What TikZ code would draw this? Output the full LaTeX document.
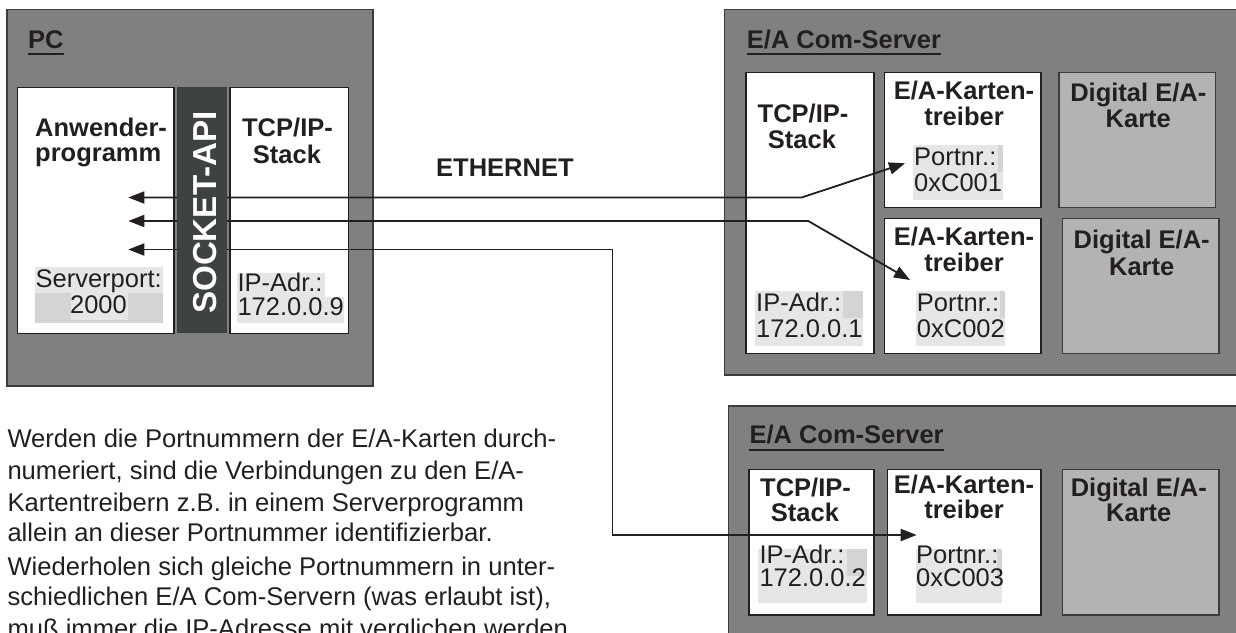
\documentclass[tikz,border=0pt]{standalone}
\usepackage{fontspec}
\setmainfont{Liberation Sans}
\usetikzlibrary{arrows.meta}

\definecolor{ink}{RGB}{35,31,32}
\definecolor{frame}{RGB}{128,128,128}
\definecolor{frameedge}{RGB}{60,60,60}
\definecolor{card}{RGB}{179,179,179}
\definecolor{apibar}{RGB}{63,66,66}
\definecolor{hl}{RGB}{230,230,230}
\definecolor{hldark}{RGB}{212,212,212}

% rectangle node from its corner coordinates: name, style, x1, y1, x2, y2
\newcommand\mkbox[6]{\node[#2, minimum width={#5pt-#3pt}, minimum height={#6pt-#4pt}] (#1) at ({(#3+#5)/2},{(#4+#6)/2}) {};}

\tikzset{
  host/.style={draw=frameedge, fill=frame, line width=1.2pt, inner sep=0pt, outer sep=0pt},
  unit/.style={draw=ink, fill=white, line width=1.1pt, inner sep=0pt},
  hwcard/.style={draw=frameedge, fill=card, line width=1.1pt, inner sep=0pt},
  api/.style={fill=apibar, inner sep=0pt},
  heading/.style={font=\fontsize{25.5pt}{26pt}\selectfont\bfseries, text=ink, inner sep=0pt, anchor=base},
  hosttitle/.style={heading, anchor=base west},
  txt/.style={font=\fontsize{25.5pt}{26pt}\selectfont, text=ink, inner sep=0pt, anchor=base west},
  bodytext/.style={font=\fontsize{25.6pt}{31pt}\selectfont, text=ink, inner sep=0pt, anchor=base west},
  uline/.style={draw=ink, line width=2.2pt},
  link/.style={draw=ink, line width=1.8pt,
    {Triangle[length=16pt,width=12pt]}-{Triangle[length=16pt,width=12pt]}},
}

\begin{document}
\begin{tikzpicture}[x=1pt, y=-1pt]
\useasboundingbox (0,0) rectangle (1236,632);

% ---------------- PC ----------------
\mkbox{pc}{host}{7}{9.3}{373}{386}
\mkbox{app}{unit}{17.3}{87.3}{174}{333.3}
\mkbox{pcstack}{unit}{230}{87.3}{348.3}{333.3}

% ---------------- E/A Com-Server 1 ----------------
\mkbox{srvA}{host}{724.7}{9.3}{1246}{375}
\mkbox{stackA}{unit}{746}{72.3}{874}{353.3}
\mkbox{drvA1}{unit}{884.7}{72.3}{1041}{207.3}
\mkbox{drvA2}{unit}{884.7}{218.7}{1041}{353.3}
\mkbox{cardA1}{hwcard}{1059}{72.3}{1215.7}{207.3}
\mkbox{cardA2}{hwcard}{1062.3}{218.7}{1219}{353.3}

% ---------------- E/A Com-Server 2 ----------------
\mkbox{srvB}{host}{728.3}{406}{1246}{645}
\mkbox{stackB}{unit}{749}{469.3}{874}{615}
\mkbox{drvB}{unit}{887.3}{469.3}{1041}{615}
\mkbox{cardB}{hwcard}{1062.3}{469.3}{1219}{615}

% text run backgrounds
\fill[hl] (35,266.7) rectangle (162.7,293);
\fill[hldark] (35,293) rectangle (162.7,322.7);
\fill[hl] (70.7,293) rectangle (127.7,320);
\fill[hl] (237,273) rectangle (325,297);
\fill[hl] (237,297) rectangle (344,323);

\fill[hl] (755,290.7) rectangle (862.7,346);
\fill[hldark] (842.7,290.7) rectangle (862.7,318);
\fill[hl] (912.7,145) rectangle (1002.7,200);
\fill[hldark] (998,145) rectangle (1002.7,172);
\fill[hl] (916,290.7) rectangle (1005,346);
\fill[hldark] (1000,290.7) rectangle (1005,318);

\fill[hl] (758,549.3) rectangle (866.7,602.7);
\fill[hldark] (847,549.3) rectangle (866.7,576);
\fill[hl] (916,549.3) rectangle (1001.7,602.7);
\fill[hldark] (997,549.3) rectangle (1001.7,576);

% ---------------- PC texts ----------------
\node[hosttitle] (pctitle) at (28,48.3) {PC};
\draw[uline] ([yshift=-6pt]pctitle.base west) -- ([yshift=-6pt]pctitle.base east);
\node[heading, anchor=base west] (app1) at (35,136.7) {Anwender-};
\node[heading, anchor=base west] (app2) at (35,161.7) {programm};
\node[heading] (pcst1) at (287.5,136.7) {TCP/IP-};
\node[heading] (pcst2) at (287,163.3) {Stack};
\node[txt, anchor=base] (port1) at (98.7,287.3) {Serverport:};
\node[txt, anchor=base] (port2) at (98.5,313.3) {2000};
\node[txt] (pcip1) at (237.3,291.7) {IP-Adr.:};
\node[txt] (pcip2) at (237.3,315) {172.0.0.9};

% ---------------- Server 1 texts ----------------
\node[hosttitle] (titleA) at (746.7,48) {E/A Com-Server};
\draw[uline] ([yshift=-6pt]titleA.base west) -- ([yshift=-6pt]titleA.base east);
\node[heading] (stA1) at (803,122.7) {TCP/IP-};
\node[heading] (stA2) at (802,148) {Stack};
\node[heading] (dA11) at (964,99) {E/A-Karten-};
\node[heading] (dA12) at (964,125) {treiber};
\node[txt] (pA11) at (914,165.7) {Portnr.:};
\node[txt] (pA12) at (914,191.7) {0xC001};
\node[heading] (cA11) at (1138.3,101.7) {Digital E/A-};
\node[heading] (cA12) at (1138.3,127.7) {Karte};
\node[heading] (dA21) at (964,245) {E/A-Karten-};
\node[heading] (dA22) at (964,271.7) {treiber};
\node[txt] (pA21) at (916.7,311.7) {Portnr.:};
\node[txt] (pA22) at (916.7,337) {0xC002};
\node[heading] (cA21) at (1141.7,248.3) {Digital E/A-};
\node[heading] (cA22) at (1141.7,275) {Karte};
\node[txt] (ipA1) at (756,311.7) {IP-Adr.:};
\node[txt] (ipA2) at (756,337.3) {172.0.0.1};

% ---------------- Server 2 texts ----------------
\node[hosttitle] (titleB) at (749.3,443.3) {E/A Com-Server};
\draw[uline] ([yshift=-7pt]titleB.base west) -- ([yshift=-7pt]titleB.base east);
\node[heading] (stB1) at (805.5,496.7) {TCP/IP-};
\node[heading] (stB2) at (805,521.7) {Stack};
\node[heading] (dB1) at (964,493.3) {E/A-Karten-};
\node[heading] (dB2) at (964,518.3) {treiber};
\node[heading] (cB1) at (1138.8,496.7) {Digital E/A-};
\node[heading] (cB2) at (1138.8,521.7) {Karte};
\node[txt] (ipB1) at (759.3,563.3) {IP-Adr.:};
\node[txt] (ipB2) at (759.3,586.7) {172.0.0.2};
\node[txt] (pB1) at (916,563.3) {Portnr.:};
\node[txt] (pB2) at (916,586.7) {0xC003};

% ---------------- network ----------------
\node[heading, anchor=base west] (eth) at (436,176.7) {ETHERNET};

\node[bodytext] (body1) at (7.3,447.8) {Werden die Portnummern der E/A-Karten durch-};
\node[bodytext] (body2) at (7.3,479.3) {numeriert, sind die Verbindungen zu den E/A-};
\node[bodytext] (body3) at (7.3,511) {Kartentreibern z.B. in einem Serverprogramm};
\node[bodytext] (body4) at (7.3,541.7) {allein an dieser Portnummer identifizierbar.};
\node[bodytext] (body5) at (7.3,575) {Wiederholen sich gleiche Portnummern in unter-};
\node[bodytext] (body6) at (7.3,605.7) {schiedlichen E/A Com-Servern (was erlaubt ist),};
\node[bodytext] (body7) at (7.3,637) {muß immer die IP-Adresse mit verglichen werden};

% connections between the application and the card drivers
\coordinate (sock1) at (128.3,197.5);
\coordinate (sock2) at (128.3,221);
\coordinate (sock3) at (128.3,249.5);
\coordinate (bendA1) at (801.7,197.5);
\coordinate (bendA2) at (808.3,221);
\coordinate (bendB1) at (612.5,249.5);
\coordinate (bendB2) at (612.5,535);
\coordinate (drvinA1) at (905,163.3);
\coordinate (drvinA2) at (910,280);
\coordinate (drvinB) at (916.7,535);

\draw[link] (sock1) -- (bendA1) -- (drvinA1);
\draw[link] (sock2) -- (bendA2) -- (drvinA2);
\draw[link] (sock3) -- (bendB1) -- (bendB2) -- (drvinB);

% socket layer on top of the connections
\mkbox{socket}{api}{177.3}{87.3}{226.7}{333.3}
\node[font=\fontsize{33.2pt}{34pt}\selectfont\bfseries, text=white, inner sep=0pt, rotate=90]
  (socketlabel) at (204.7,212.5) {SOCKET-API};
\end{tikzpicture}
\end{document}
